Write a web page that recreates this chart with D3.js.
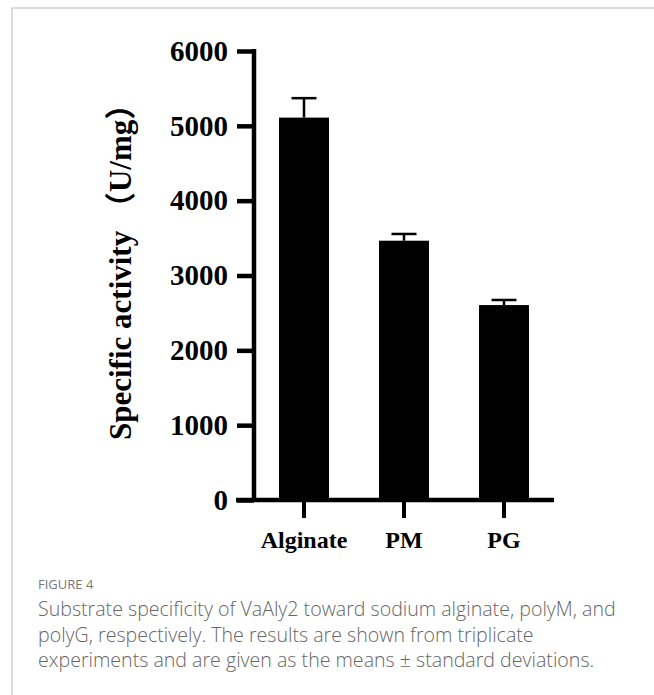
<!DOCTYPE html>
<html>
<head>
<meta charset="utf-8">
<script src="https://cdn.jsdelivr.net/npm/d3@7"></script>
<style>
  body { margin: 0; background: #fff; }
  svg { display: block; }
</style>
</head>
<body>
<svg id="chart" width="654" height="695"></svg>
<script>
// data
var categories = ["Alginate", "PM", "PG"];
var means = [5110, 3465, 2605];
var errors = [260, 90, 68];
var yTicks = [0, 1000, 2000, 3000, 4000, 5000, 6000];
var captionLines = [
    "Substrate specificity of VaAly2 toward sodium alginate, polyM, and",
    "polyG, respectively. The results are shown from triplicate",
    "experiments and are given as the means \u00b1 standard deviations."
];

var svg = d3.select("#chart");
var serif = "'Liberation Serif', 'Times New Roman', 'Noto Sans CJK SC', serif";

// light frame on top and left
svg.append("path")
    .attr("d", "M12,695 L12,8 L654,8")
    .style("fill", "none")
    .style("stroke", "#cfcfcf")
    .style("stroke-width", "1.5");

var y = d3.scaleLinear().domain([0, 6000]).range([500, 51]);
var x = d3.scaleBand().domain(categories).range([254, 554])
    .paddingInner(0.5).paddingOuter(0.25);

var data = categories.map(function(c, i){
    return {name: c, mean: means[i], sd: errors[i]};
});

// bars
svg.append("g").selectAll("rect")
    .data(data)
    .enter().append("rect")
    .attr("x", function(d){ return x(d.name); })
    .attr("y", function(d){ return y(d.mean); })
    .attr("width", x.bandwidth())
    .attr("height", function(d){ return y(0) - y(d.mean); })
    .style("fill", "#000");

// error bars (upper only)
var err = svg.append("g").selectAll("g")
    .data(data)
    .enter().append("g");
err.append("line")
    .attr("x1", function(d){ return x(d.name) + x.bandwidth()/2; })
    .attr("x2", function(d){ return x(d.name) + x.bandwidth()/2; })
    .attr("y1", function(d){ return y(d.mean); })
    .attr("y2", function(d){ return y(d.mean + d.sd); })
    .style("stroke", "#000")
    .style("stroke-width", "2.5");
err.append("line")
    .attr("x1", function(d){ return x(d.name) + x.bandwidth()/2 - 12.5; })
    .attr("x2", function(d){ return x(d.name) + x.bandwidth()/2 + 12.5; })
    .attr("y1", function(d){ return y(d.mean + d.sd); })
    .attr("y2", function(d){ return y(d.mean + d.sd); })
    .style("stroke", "#000")
    .style("stroke-width", "2.5");

// y axis
var yAxis = svg.append("g")
    .attr("transform", "translate(254,0)")
    .call(d3.axisLeft(y).tickValues(yTicks).tickFormat(d3.format("d"))
        .tickSize(17).tickSizeOuter(0).tickPadding(9));
yAxis.select(".domain").style("stroke-width", "4.5").attr("d", "M0,49V502");
yAxis.selectAll(".tick line").style("stroke-width", "4.5");
yAxis.selectAll(".tick text")
    .style("font-family", serif)
    .style("font-weight", "bold")
    .style("font-size", "29px")
    .style("fill", "#000");

// x axis
var xAxis = svg.append("g")
    .attr("transform", "translate(0,500)")
    .call(d3.axisBottom(x).tickSize(18).tickSizeOuter(0).tickPadding(13));
xAxis.select(".domain").style("stroke-width", "4.5").attr("d", "M236,0H554");
xAxis.selectAll(".tick line").style("stroke-width", "4");
xAxis.selectAll(".tick text")
    .style("font-family", serif)
    .style("font-weight", "bold")
    .style("font-size", "24px")
    .style("fill", "#000");

// y title
svg.append("text")
    .attr("transform", "translate(131,440) rotate(-90)")
    .attr("text-anchor", "start")
    .style("font-family", serif)
    .style("font-weight", "bold")
    .style("font-size", "31px")
    .text("Specific activity \uff08U/mg\uff09");

// caption
var sans = "'Open Sans', 'Noto Sans', sans-serif";
svg.append("text")
    .attr("x", 38)
    .attr("y", 589)
    .style("font-family", sans)
    .style("font-size", "13px")
    .style("fill", "#777")
    .text("FIGURE 4");

svg.append("g").selectAll("text")
    .data(captionLines)
    .enter().append("text")
    .attr("x", 38)
    .attr("y", function(d, i){ return 616 + i*25.5; })
    .style("font-family", sans)
    .style("font-weight", "300")
    .style("font-size", "19.6px")
    .style("fill", "#666")
    .text(function(d){ return d; });
</script>
</body>
</html>
